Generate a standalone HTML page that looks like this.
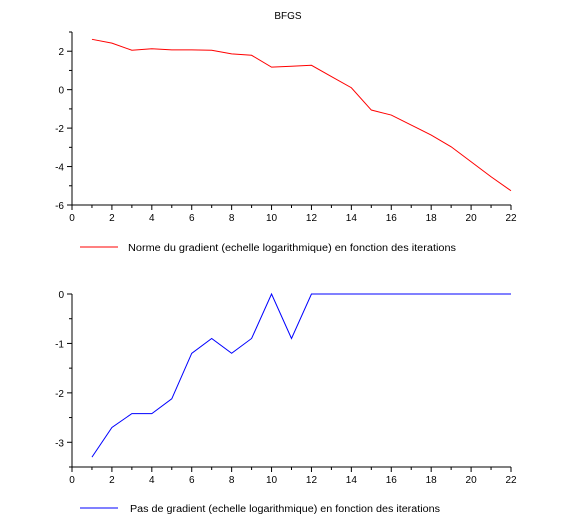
<!DOCTYPE html>
<html><head><meta charset="utf-8"><style>
body{margin:0;background:#fff;font-family:"Liberation Sans",sans-serif}
svg text{font-family:"Liberation Sans",sans-serif;font-size:10px;fill:#000}
</style></head><body>
<svg width="584" height="523">
<text x="288" y="19" text-anchor="middle">BFGS</text>
<g id="top"></g>
<g id="bot"></g>
<g>
<line x1="80" y1="247" x2="118" y2="247" stroke="#f00"/>
<text x="128" y="251" textLength="328" lengthAdjust="spacingAndGlyphs">Norme du gradient (echelle logarithmique) en fonction des iterations</text></g>
<g>
<line x1="80" y1="508" x2="118" y2="508" stroke="#00f"/>
<text x="130" y="512" textLength="310" lengthAdjust="spacingAndGlyphs">Pas de gradient (echelle logarithmique) en fonction des iterations</text></g>
</svg>
<script>
const iterations=[1,2,3,4,5,6,7,8,9,10,11,12,13,14,15,16,17,18,19,20,21,22];
const gradNorm=[2.62,2.42,2.05,2.13,2.07,2.07,2.05,1.86,1.79,1.17,1.22,1.27,0.68,0.1,-1.06,-1.32,-1.84,-2.36,-2.97,-3.75,-4.53,-5.26];
const stepSize=[-3.3,-2.7,-2.42,-2.42,-2.12,-1.2,-0.9,-1.2,-0.9,0,-0.9,0,0,0,0,0,0,0,0,0,0,0];
const xTicks=[0,2,4,6,8,10,12,14,16,18,20,22];
const topYTicks=[-6,-4,-2,0,2];
const botYTicks=[-3,-2,-1,0];
const NS="http://www.w3.org/2000/svg";
function mk(p,t,a){const e=document.createElementNS(NS,t);for(const k in a)e.setAttribute(k,a[k]);p.appendChild(e);return e;}
function draw(g,data,color,ymin,ymax,py0,py1,yt,minorStep){
 const x=v=>72+v*(511-72)/22, y=v=>py1-(v-ymin)*(py1-py0)/(ymax-ymin);
 let e=mk(g,'line',{x1:72,y1:py0,x2:72,y2:py1,stroke:'#000'});
 
 e=mk(g,'line',{x1:72,y1:py1,x2:511,y2:py1,stroke:'#000'});
 
 for(let v=0;v<=22;v++){mk(g,'line',{x1:x(v),y1:py1,x2:x(v),y2:py1+(v%2?3:5),stroke:'#000'});}
 xTicks.forEach(v=>{const t=mk(g,'text',{x:x(v),y:py1+16,'text-anchor':'middle'});t.textContent=v;
  });
 for(let v=ymin;v<=ymax+1e-9;v+=minorStep){const maj=yt.some(t=>Math.abs(t-v)<1e-9);mk(g,'line',{x1:72,y1:y(v),x2:72-(maj?5:3),y2:y(v),stroke:'#000'});}
 yt.forEach(v=>{const t=mk(g,'text',{x:64,y:y(v)+4,'text-anchor':'end'});t.textContent=v;
  });
 const p=mk(g,'polyline',{points:data.map((v,i)=>x(iterations[i])+','+y(v)).join(' '),fill:'none',stroke:color});
 
}
draw(document.getElementById('top'),gradNorm,'#f00',-6,3,32,205,topYTicks,1);
draw(document.getElementById('bot'),stepSize,'#00f',-3.5,0,294,467,botYTicks,0.5);
</script>
</body></html>
